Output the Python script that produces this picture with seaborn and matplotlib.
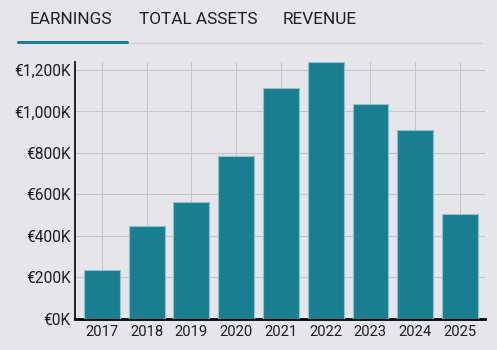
import seaborn as sns
import matplotlib.pyplot as plt
import pandas as pd
from matplotlib.ticker import FuncFormatter

years = ["2017", "2018", "2019", "2020", "2021", "2022", "2023", "2024", "2025"]
earnings = [236, 448, 564, 786, 1112, 1238, 1036, 912, 506]  # thousands EUR
tabs = ["EARNINGS", "TOTAL ASSETS", "REVENUE"]

bg = "#e5e5ea"
teal = "#177f8f"

sns.set_theme(style="whitegrid")
plt.rcParams["font.family"] = ["Roboto", "DejaVu Sans"]

df = pd.DataFrame({"year": years, "earnings": earnings})

fig = plt.figure(figsize=(4.97, 3.5), dpi=100, facecolor=bg)
ax = fig.add_axes([75 / 497, 1 - 319 / 350, 410 / 497, 257 / 350])
ax.set_facecolor(bg)

sns.barplot(data=df, x="year", y="earnings", color=teal, saturation=1,
            width=0.8, edgecolor="#8fc3cb", linewidth=0.8, ax=ax, zorder=3)

ax.set_xlim(-0.6, 8.56)
ax.set_ylim(0, 1238)
ax.set_yticks(range(0, 1201, 200))
ax.yaxis.set_major_formatter(FuncFormatter(lambda v, p: "€{:,.0f}K".format(v)))
ax.set_xlabel("")
ax.set_ylabel("")
ax.grid(True, color="#c6c6ca", linewidth=0.8, zorder=0)
ax.set_axisbelow(True)
for s in ["top", "right"]:
    ax.spines[s].set_visible(False)
ax.spines["left"].set_color("black")
ax.spines["left"].set_linewidth(1.2)
ax.spines["bottom"].set_color("black")
ax.spines["bottom"].set_linewidth(2)
ax.tick_params(axis="y", labelsize=11.2, colors="#1e1e1e", length=0, pad=3)
ax.tick_params(axis="x", labelsize=10.6, colors="#1e1e1e", length=0, pad=4)

# tab header
tab_x = [30, 139, 283]
for t, x in zip(tabs, tab_x):
    fig.text(x / 497, 1 - 19 / 350, t, fontsize=12.4, color="#1e1e1e",
             ha="left", va="center")
fig.add_artist(plt.Line2D([127 / 497, 482 / 497], [1 - 43 / 350] * 2,
                          color="#cfcfd3", linewidth=1))
fig.add_artist(plt.Line2D([18 / 497, 127 / 497], [1 - 42 / 350] * 2,
                          color=teal, linewidth=2.2))

fig.savefig("out.png", dpi=100, facecolor=bg)
